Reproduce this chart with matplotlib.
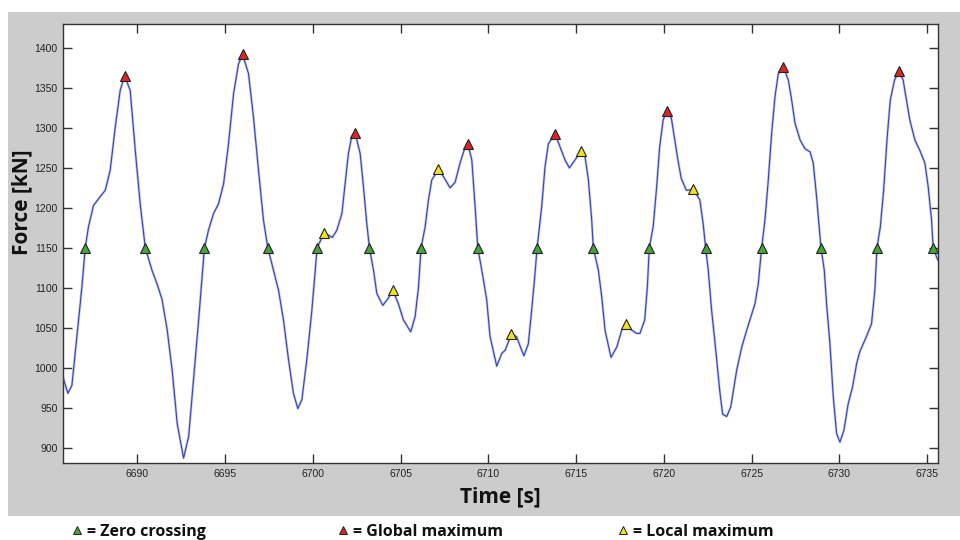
import matplotlib
matplotlib.use("Agg")
import matplotlib.pyplot as plt
from matplotlib.patches import Rectangle
from matplotlib.lines import Line2D

# force signal (time [s], force [kN])
time = [6685.79, 6686.05, 6686.28, 6686.56, 6686.85, 6687.04, 6687.22, 6687.51, 6687.89, 6688.18,
        6688.46, 6688.75, 6689.03, 6689.28, 6689.60, 6689.89, 6690.17, 6690.46, 6690.84, 6691.13,
        6691.42, 6691.71, 6691.99, 6692.28, 6692.64, 6692.93, 6693.21, 6693.50, 6693.70, 6693.83,
        6694.06, 6694.35, 6694.63, 6694.92, 6695.20, 6695.49, 6695.77, 6696.00, 6696.34, 6696.62,
        6696.91, 6697.19, 6697.44, 6697.76, 6698.05, 6698.33, 6698.62, 6698.90, 6699.15, 6699.38,
        6699.66, 6699.95, 6700.25, 6700.65, 6701.12, 6701.37, 6701.66, 6701.84, 6702.03, 6702.22,
        6702.41, 6702.70, 6702.89, 6703.08, 6703.23, 6703.46, 6703.65, 6703.99, 6704.30, 6704.56,
        6704.88, 6705.16, 6705.58, 6705.83, 6706.02, 6706.17, 6706.40, 6706.59, 6706.78, 6707.16,
        6707.45, 6707.82, 6708.11, 6708.39, 6708.62, 6708.83, 6709.06, 6709.25, 6709.40, 6709.63,
        6709.91, 6710.10, 6710.48, 6710.77, 6710.96, 6711.32, 6711.61, 6711.90, 6712.03, 6712.28,
        6712.47, 6712.65, 6712.78, 6713.04, 6713.23, 6713.42, 6713.80, 6714.09, 6714.37, 6714.62,
        6714.94, 6715.28, 6715.51, 6715.70, 6715.89, 6715.98, 6716.27, 6716.46, 6716.65, 6716.99,
        6717.32, 6717.60, 6717.85, 6718.17, 6718.45, 6718.64, 6718.91, 6719.06, 6719.17, 6719.39,
        6719.59, 6719.76, 6719.96, 6720.16, 6720.43, 6720.62, 6720.80, 6720.99, 6721.28, 6721.68,
        6722.05, 6722.24, 6722.38, 6722.53, 6722.72, 6722.92, 6723.20, 6723.35, 6723.58, 6723.81,
        6724.15, 6724.44, 6724.72, 6725.19, 6725.38, 6725.57, 6725.76, 6725.95, 6726.14, 6726.33,
        6726.52, 6726.81, 6727.09, 6727.28, 6727.47, 6727.76, 6728.04, 6728.33, 6728.51, 6728.70,
        6728.85, 6728.95, 6729.14, 6729.27, 6729.46, 6729.65, 6729.84, 6730.03, 6730.26, 6730.50,
        6730.75, 6730.98, 6731.16, 6731.54, 6731.83, 6732.02, 6732.14, 6732.33, 6732.52, 6732.71,
        6732.90, 6733.14, 6733.39, 6733.63, 6733.82, 6734.01, 6734.30, 6734.58, 6734.87, 6735.06,
        6735.25, 6735.34, 6735.53, 6735.60]
force = [987, 968, 978, 1039, 1101, 1150, 1176, 1203, 1214, 1222,
         1247, 1301, 1347, 1365, 1347, 1272, 1205, 1150, 1122, 1105,
         1085, 1047, 997, 930, 887, 914, 985, 1060, 1115, 1150,
         1172, 1193, 1205, 1230, 1280, 1343, 1380, 1392, 1368, 1314,
         1247, 1185, 1150, 1122, 1097, 1060, 1010, 968, 949, 960,
         1010, 1072, 1150, 1169, 1163, 1172, 1193, 1230, 1268, 1289,
         1294, 1268, 1226, 1180, 1150, 1122, 1093, 1078, 1087, 1097,
         1080, 1060, 1045, 1064, 1100, 1150, 1176, 1210, 1235, 1248,
         1239, 1225, 1232, 1256, 1272, 1280, 1260, 1201, 1150, 1122,
         1085, 1039, 1002, 1018, 1022, 1042, 1039, 1022, 1015, 1030,
         1072, 1115, 1150, 1201, 1251, 1280, 1293, 1276, 1260, 1250,
         1260, 1271, 1264, 1235, 1185, 1150, 1122, 1089, 1047, 1013,
         1026, 1047, 1055, 1047, 1043, 1043, 1060, 1101, 1150, 1176,
         1226, 1276, 1310, 1321, 1312, 1285, 1260, 1237, 1222, 1223,
         1210, 1180, 1150, 1122, 1072, 1030, 968, 942, 939, 951,
         997, 1026, 1047, 1080, 1105, 1150, 1185, 1235, 1293, 1339,
         1368, 1376, 1360, 1335, 1306, 1285, 1274, 1270, 1256, 1214,
         1176, 1150, 1122, 1080, 1030, 964, 918, 907, 922, 955,
         976, 1005, 1020, 1039, 1055, 1097, 1150, 1176, 1222, 1285,
         1335, 1360, 1371, 1360, 1335, 1310, 1285, 1272, 1256, 1226,
         1185, 1150, 1139, 1135]

zero_t = [6687.04, 6690.46, 6693.83, 6697.44, 6700.25, 6703.23, 6706.17, 6709.40,
          6712.78, 6715.98, 6719.17, 6722.38, 6725.57, 6728.95, 6732.14, 6735.34]
zero_f = [1150] * len(zero_t)

glob_t = [6689.28, 6696.00, 6702.41, 6708.83, 6713.80, 6720.16, 6726.81, 6733.39]
glob_f = [1365, 1392, 1294, 1280, 1293, 1321, 1376, 1371]

loc_t = [6700.65, 6704.56, 6707.16, 6711.32, 6715.28, 6717.85, 6721.68]
loc_f = [1169, 1097, 1248, 1042, 1271, 1055, 1223]

xticks = list(range(6690, 6736, 5))
yticks = list(range(900, 1401, 50))

legend_labels = ["= Zero crossing", "= Global maximum", "= Local maximum"]
c_zero, c_glob, c_loc = "#47a33a", "#e02424", "#f2e21c"

fig = plt.figure(figsize=(9.6, 5.4), dpi=100)
fig.patch.set_facecolor("white")
# grey matlab figure panel, kept behind the axes
fig.patches.append(Rectangle((8 / 960, 1 - 515.7 / 540), 1, (515.7 - 12.3) / 540,
                             transform=fig.transFigure, facecolor="#cccccc",
                             edgecolor="none", zorder=-10))

ax = fig.add_axes([63.3 / 960, 1 - 463 / 540, (937.7 - 63.3) / 960, (463 - 24.3) / 540])
ax.set_facecolor("white")

# faint halo + thin blue trace
ax.plot(time, force, color="#c3c8ea", lw=1.8, zorder=2)
ax.plot(time, force, color="#3445ad", lw=0.8, zorder=3)

mk = dict(marker="^", ms=6.5, mec="#222222", mew=0.8, ls="none", zorder=4)
ax.plot(zero_t, zero_f, mfc=c_zero, **mk)
ax.plot(glob_t, glob_f, mfc=c_glob, **mk)
ax.plot(loc_t, loc_f, mfc=c_loc, **mk)

ax.set_xlim(6685.79, 6735.6)
ax.set_ylim(880.9, 1429.6)
ax.set_xticks(xticks)
ax.set_yticks(yticks)
ax.tick_params(direction="in", length=6.5, width=1.0, color="#333333",
               top=True, right=True, labelsize=7.5, labelcolor="#222222", pad=4)
for lab in ax.get_xticklabels() + ax.get_yticklabels():
    lab.set_family("Liberation Sans")
for s in ax.spines.values():
    s.set_color("#333333")
    s.set_linewidth(1.0)

ax.set_xlabel("Time [s]", family="Open Sans", fontweight="bold", fontsize=15, color="#111111")
ax.set_ylabel("Force [kN]", family="Open Sans", fontweight="bold", fontsize=15, color="#111111")
ax.xaxis.set_label_coords(0.5, -(497 - 463) / 438.7)
ax.yaxis.set_label_coords((22 - 63.3) / 874.4, (463 - 202) / 438.7)
ax.xaxis.label.set_va("center")
ax.yaxis.label.set_va("center")

# legend row below the figure panel
leg_x = [77, 343, 623]
for x, col, txt in zip(leg_x, [c_zero, c_glob, c_loc], legend_labels):
    fig.lines.append(Line2D([x / 960], [1 - 530 / 540], transform=fig.transFigure,
                            marker="^", ms=6, mfc=col, mec="#222222", mew=0.7))
    fig.text((x + 10) / 960, 1 - 535.5 / 540, txt, family="Open Sans", fontweight="bold",
             fontsize=11.5, color="#111111", va="baseline", ha="left")

fig.savefig("out.png", dpi=100, facecolor=fig.get_facecolor())
